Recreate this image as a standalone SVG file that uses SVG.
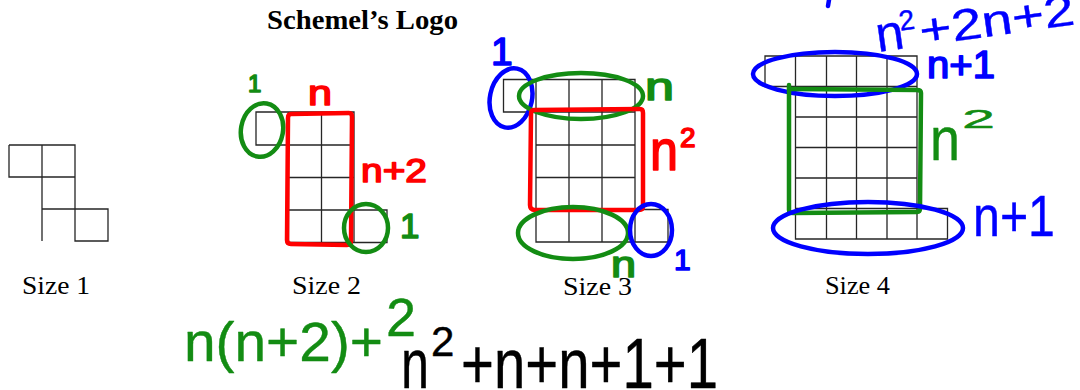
<svg xmlns="http://www.w3.org/2000/svg" width="1080" height="390" viewBox="0 0 1080 390">
<style>
.bg{fill:#fff}
.grid{fill:none;stroke:#262626;stroke-width:1.3}
.serif{font-family:"Liberation Serif","Times New Roman",serif;fill:#000}
.hw{font-family:"Liberation Sans",Arial,sans-serif;stroke-linejoin:round;stroke-width:1.6}
.thin{stroke-width:0.4}
.r{fill:#ff0000;stroke:#ff0000}
.g{fill:#138c13;stroke:#138c13}
.b{fill:#0000ff;stroke:#0000ff}
.k{fill:#000;stroke:#000}
.rs{fill:none;stroke:#ff0000;stroke-width:4.5;stroke-linecap:round;stroke-linejoin:round}
.gs{fill:none;stroke:#138c13;stroke-width:4.5;stroke-linecap:round;stroke-linejoin:round}
.bs{fill:none;stroke:#0000ff;stroke-width:4.5;stroke-linecap:round;stroke-linejoin:round}
</style>
<rect class="bg" x="0" y="0" width="1080" height="390"/>
<text id="title" class="serif" x="267" y="29" font-size="28" font-weight="bold" textLength="191" lengthAdjust="spacingAndGlyphs">Schemel’s Logo</text>

<g id="size1">
<path class="grid" d="M9,145H75V241H108V209H42V145M9,145V177H75M42,177V241M75,209V241"/>
<text class="serif" x="22" y="294" font-size="25" textLength="68" lengthAdjust="spacingAndGlyphs">Size 1</text>
</g>

<g id="size2">
<path class="grid" d="M256,112H354V242.5H288.5V145H256ZM321.5,112V242.5M288.5,112V145M288.5,145H354M288.5,177.5H354M288.5,210H387V242.5H354"/>
<text class="serif" x="292" y="294" font-size="25" textLength="69" lengthAdjust="spacingAndGlyphs">Size 2</text>
</g>

<g id="size3">
<path class="grid" d="M503.5,79.5H635V242H536V112H503.5ZM569,79.5V242M602,79.5V242M536,79.5V112M536,112H635M536,145H635M536,177.5H635M536,209.5H668V242H635"/>
<text class="serif" x="563" y="295" font-size="25" textLength="69" lengthAdjust="spacingAndGlyphs">Size 3</text>
</g>

<g id="size4">
<path class="grid" d="M765,56H917V239H795.5V86.5H765ZM795.5,56V86.5M826.5,56V239M856.5,56V239M887,56V239M795.5,86.5H917M795.5,117H917M795.5,147.5H917M795.5,178H917M795.5,208.5H947.5V239H917"/>
<text class="serif" x="825" y="294" font-size="25" textLength="65" lengthAdjust="spacingAndGlyphs">Size 4</text>
</g>

<g id="annotations">
<!-- size 2 -->
<ellipse class="gs" cx="262" cy="130" rx="21" ry="27" transform="rotate(10 262 130)"/>
<path class="rs" d="M291,114 L349,113 Q352,113 352,117 L351,241 Q351,245 347,245 L291,244 Q287,244 287,240 L288,118 Q288,114 291,114Z"/>
<ellipse class="gs" cx="366" cy="228" rx="22" ry="24"/>
<text class="hw g" x="248" y="92" font-size="24">1</text>
<text class="hw r" x="308" y="105" font-size="35" textLength="24" lengthAdjust="spacingAndGlyphs">n</text>
<text class="hw r" x="361" y="182" font-size="34" textLength="66" lengthAdjust="spacingAndGlyphs">n+2</text>
<text class="hw g" x="400" y="238" font-size="35">1</text>

<!-- size 3 -->
<ellipse class="bs" cx="511" cy="98" rx="21" ry="30" transform="rotate(12 511 98)"/>
<ellipse class="gs" cx="581" cy="96" rx="62" ry="23"/>
<path class="rs" d="M534,110 L640,109 Q643,109 643,113 L643,206 Q643,210 639,210 L535,210 Q530,210 530,205 L531,114 Q531,110 534,110Z"/>
<ellipse class="gs" cx="573" cy="233" rx="55" ry="26"/>
<ellipse class="bs" cx="651" cy="230" rx="21" ry="26"/>
<text class="hw b" x="491" y="65" font-size="39">1</text>
<text class="hw g" x="645" y="100" font-size="38" textLength="29" lengthAdjust="spacingAndGlyphs">n</text>
<text class="hw r"><tspan x="650" y="170" font-size="58" textLength="28" lengthAdjust="spacingAndGlyphs">n</tspan><tspan x="680" y="147" font-size="28">2</tspan></text>
<text class="hw g" x="611" y="277" font-size="36" textLength="25" lengthAdjust="spacingAndGlyphs">n</text>
<text class="hw b" x="674" y="270" font-size="30">1</text>

<!-- size 4 -->
<ellipse class="bs" cx="835" cy="74" rx="82" ry="22"/>
<path class="gs" d="M789,85 L789,210 Q789,213 793,213 L917,212 Q920,212 920,208 L921,93 Q921,90 917,90 L792,89"/>
<ellipse class="bs" cx="868" cy="228" rx="95" ry="26"/>
<text class="hw b" x="927" y="78" font-size="38" textLength="68" lengthAdjust="spacingAndGlyphs">n+1</text>
<text class="hw g thin"><tspan x="930" y="160" font-size="62" textLength="30" lengthAdjust="spacingAndGlyphs">n</tspan><tspan x="962" y="128" font-size="26" textLength="33" lengthAdjust="spacingAndGlyphs">2</tspan></text>
<text class="hw b thin" x="973" y="236" font-size="58" textLength="82" lengthAdjust="spacingAndGlyphs">n+1</text>
<text class="hw b thin" transform="rotate(-8 878 52)"><tspan x="878" y="52" font-size="50" textLength="28" lengthAdjust="spacingAndGlyphs">n</tspan><tspan x="903" y="34" font-size="28">2</tspan><tspan x="922" y="52" font-size="44" textLength="156" lengthAdjust="spacingAndGlyphs">+2n+2</tspan></text>
<path class="bs" d="M829,0 L828,6"/>

<!-- formulas -->
<text class="hw g thin"><tspan x="184" y="361" font-size="56" textLength="199" lengthAdjust="spacingAndGlyphs">n(n+2)+</tspan><tspan x="386" y="336" font-size="54">2</tspan></text>
<text class="hw k thin"><tspan x="401" y="388" font-size="70" textLength="28" lengthAdjust="spacingAndGlyphs">n</tspan><tspan x="431" y="356" font-size="42">2</tspan><tspan x="461" y="388" font-size="70" textLength="257" lengthAdjust="spacingAndGlyphs">+n+n+1+1</tspan></text>
</g>
</svg>
